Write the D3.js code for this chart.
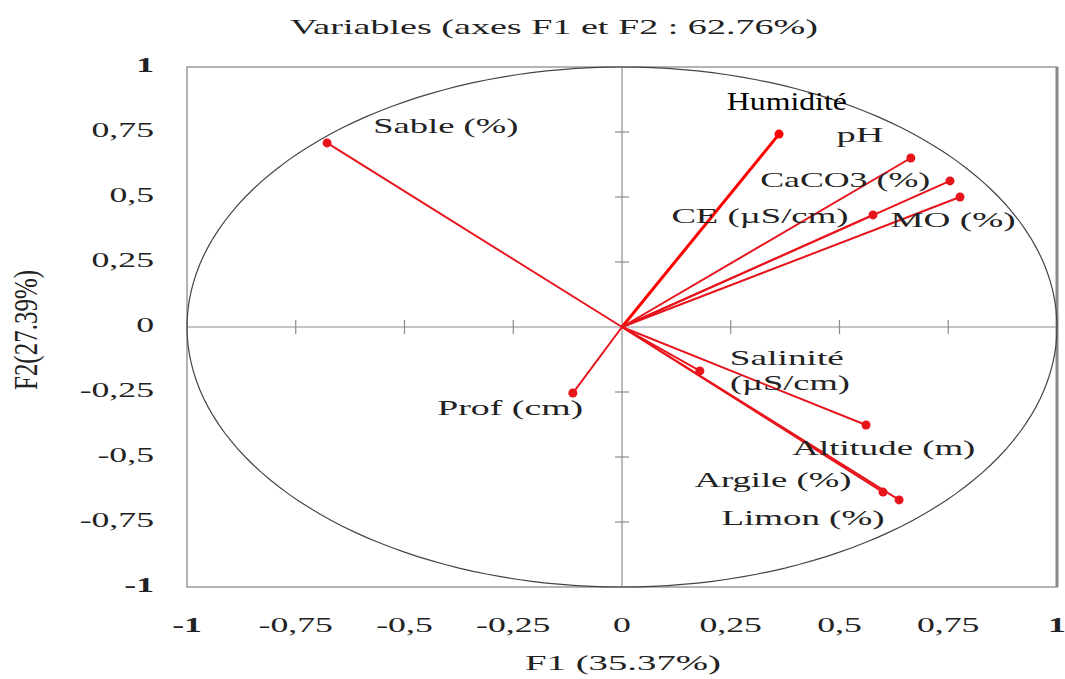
<!DOCTYPE html>
<html lang="fr">
<head>
<meta charset="utf-8" />
<title>Variables F1 F2</title>
<script src="https://d3js.org/d3.v7.min.js"></script>
<style>
  body { margin: 0; background: #fff; }
</style>
</head>
<body>
<svg id="chart"></svg>
<script>
// variable names and their loadings on F1 / F2
const names = ["Sable (%)", "Humidité", "pH", "CaCO3 (%)", "MO (%)", "CE (µS/cm)",
               "Salinité", "Altitude (m)", "Argile (%)", "Limon (%)", "Prof (cm)"];
const f1 = [-0.678, 0.361, 0.664, 0.754, 0.777, 0.577, 0.179, 0.561, 0.600, 0.637, -0.113];
const f2 = [ 0.708, 0.742, 0.650, 0.562, 0.500, 0.431, -0.169, -0.377, -0.635, -0.665, -0.254];

const ticks = [-1, -0.75, -0.5, -0.25, 0, 0.25, 0.5, 0.75, 1];
const tickLabels = ["-1", "-0,75", "-0,5", "-0,25", "0", "0,25", "0,5", "0,75", "1"];

const width = 1065, height = 679;
const serif = "'Liberation Serif', 'Times New Roman', 'DejaVu Serif', serif";
const svg = d3.select("#chart").attr("width", width).attr("height", height)
    .attr("font-family", serif);

const x = d3.scaleLinear().domain([-1, 1]).range([187, 1057]);
const y = d3.scaleLinear().domain([-1, 1]).range([587, 67]);

// the reference text is stretched sideways, so widen every label
function stretch(sel, k) {
  sel.each(function () {
    const w = this.getComputedTextLength();
    d3.select(this).attr("textLength", w * k).attr("lengthAdjust", "spacingAndGlyphs");
  });
}

// frame
svg.append("rect")
    .attr("x", x(-1)).attr("y", y(1))
    .attr("width", x(1) - x(-1)).attr("height", y(-1) - y(1))
    .attr("fill", "none").attr("stroke", "#9a9a9a").attr("stroke-width", 1.5);
svg.append("line")
    .attr("x1", x(1)).attr("x2", x(1)).attr("y1", y(1)).attr("y2", y(-1))
    .attr("stroke", "#8a8a8a").attr("stroke-width", 3);

// center axes
svg.append("line").attr("x1", x(-1)).attr("x2", x(1)).attr("y1", y(0)).attr("y2", y(0))
    .attr("stroke", "#8c8c8c").attr("stroke-width", 1.2);
svg.append("line").attr("x1", x(0)).attr("x2", x(0)).attr("y1", y(1)).attr("y2", y(-1))
    .attr("stroke", "#8c8c8c").attr("stroke-width", 1.2);

// tick crosses
const inner = ticks.filter(t => t !== 0 && Math.abs(t) !== 1);
svg.append("g").selectAll("line").data(inner).join("line")
    .attr("x1", d => x(d)).attr("x2", d => x(d))
    .attr("y1", y(0) - 7).attr("y2", y(0) + 7)
    .attr("stroke", "#8c8c8c").attr("stroke-width", 1.2);
svg.append("g").selectAll("line").data(inner).join("line")
    .attr("x1", x(0) - 7).attr("x2", x(0) + 7)
    .attr("y1", d => y(d)).attr("y2", d => y(d))
    .attr("stroke", "#8c8c8c").attr("stroke-width", 1.2);

// correlation circle
const angles = d3.range(0, 361, 2).map(a => a * Math.PI / 180);
svg.append("path")
    .attr("d", d3.line().x(a => x(Math.cos(a))).y(a => y(Math.sin(a)))(angles))
    .attr("fill", "none").attr("stroke", "#444").attr("stroke-width", 1.2);

// tick labels
svg.append("g").selectAll("text").data(ticks).join("text")
    .attr("x", d => x(d)).attr("y", 627)
    .attr("text-anchor", "middle").attr("dominant-baseline", "middle")
    .attr("font-size", 21).attr("fill", "#222")
    .attr("font-weight", d => Math.abs(d) === 1 ? "bold" : "normal")
    .text((d, i) => tickLabels[i])
    .call(stretch, 1.7);
svg.append("g").selectAll("text").data(ticks).join("text")
    .attr("x", 154).attr("y", d => y(d))
    .attr("text-anchor", "end").attr("dominant-baseline", "middle")
    .attr("font-size", 21).attr("fill", "#222")
    .attr("font-weight", d => Math.abs(d) === 1 ? "bold" : "normal")
    .text((d, i) => tickLabels[i])
    .call(stretch, 1.7);

// titles
svg.append("text").attr("x", 554).attr("y", 29)
    .attr("text-anchor", "middle").attr("dominant-baseline", "middle")
    .attr("font-size", 22).attr("fill", "#222")
    .attr("textLength", 528).attr("lengthAdjust", "spacingAndGlyphs")
    .text("Variables (axes F1 et F2 : 62.76%)");
svg.append("text").attr("x", 623).attr("y", 665)
    .attr("text-anchor", "middle").attr("dominant-baseline", "middle")
    .attr("font-size", 22).attr("fill", "#222")
    .attr("textLength", 196).attr("lengthAdjust", "spacingAndGlyphs")
    .text("F1 (35.37%)");
svg.append("text")
    .attr("transform", "translate(29,330) rotate(-90) scale(1,1.5)")
    .attr("text-anchor", "middle").attr("dominant-baseline", "middle")
    .attr("font-size", 22).attr("fill", "#222")
    .attr("textLength", 120).attr("lengthAdjust", "spacingAndGlyphs")
    .text("F2(27.39%)");

// vectors
const idx = d3.range(names.length);
svg.append("g").selectAll("line").data(idx).join("line")
    .attr("x1", x(0)).attr("y1", y(0))
    .attr("x2", i => x(f1[i])).attr("y2", i => y(f2[i]))
    .attr("stroke", i => names[i] === "Humidité" ? "#ff0000" : "#e8141c")
    .attr("stroke-width", i => names[i] === "Humidité" ? 3 : 2);
svg.append("g").selectAll("circle").data(idx).join("circle")
    .attr("cx", i => x(f1[i])).attr("cy", i => y(f2[i]))
    .attr("r", 4.5)
    .attr("fill", i => names[i] === "Humidité" ? "#ff0000" : "#e8141c");

// label placement (data units) and stretched widths
const labelX = [-0.405, 0.379, 0.547, 0.513, 0.761, 0.317, 0.379, 0.602, 0.347, 0.416, -0.257];
const labelY = [0.765, 0.858, 0.731, 0.558, 0.404, 0.419, -0.127, -0.473, -0.596, -0.742, -0.319];
const labelW = [145, 120, 47, 170, 125, 177, 114, 183, 157, 163, 146];

svg.append("g").selectAll("text").data(idx).join("text")
    .attr("x", i => x(labelX[i])).attr("y", i => y(labelY[i]))
    .attr("text-anchor", "middle").attr("dominant-baseline", "middle")
    .attr("font-size", i => names[i] === "Humidité" ? 26 : 22)
    .attr("fill", i => names[i] === "Humidité" ? "#000" : "#222")
    .attr("textLength", i => labelW[i]).attr("lengthAdjust", "spacingAndGlyphs")
    .text(i => names[i]);
// second line of the Salinité label
svg.append("text")
    .attr("x", x(0.386)).attr("y", y(-0.223))
    .attr("text-anchor", "middle").attr("dominant-baseline", "middle")
    .attr("font-size", 22).attr("fill", "#222")
    .attr("textLength", 120).attr("lengthAdjust", "spacingAndGlyphs")
    .text("(µS/cm)");
</script>
</body>
</html>
